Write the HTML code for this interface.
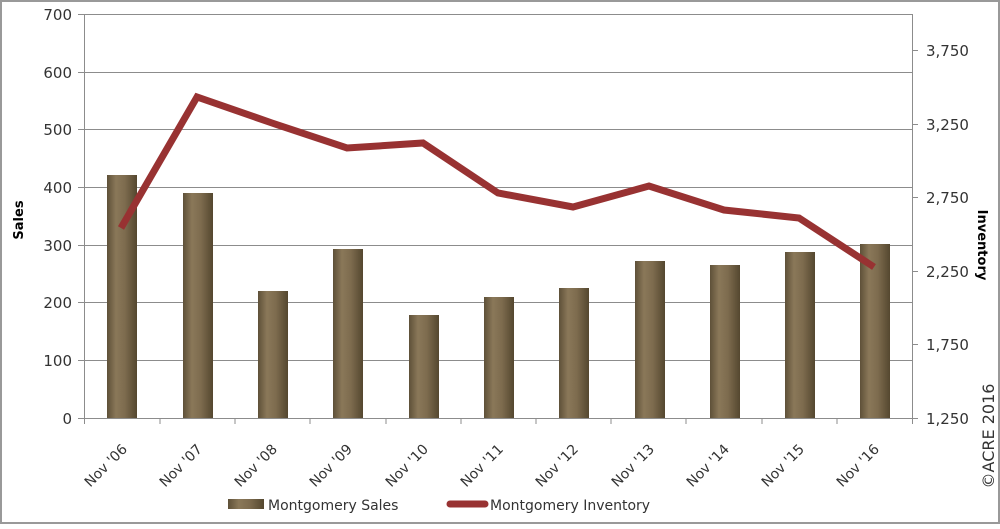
<!DOCTYPE html>
<html><head><style>
body{margin:0;background:#fff}
svg text{font-family:"DejaVu Sans","Liberation Sans",sans-serif;fill:#333}
</style></head><body>
<svg width="1000" height="524" xmlns="http://www.w3.org/2000/svg">
<defs>
<linearGradient id="bg" x1="0" x2="1" y1="0" y2="0">
<stop offset="0" stop-color="#5e5038"/><stop offset="0.3" stop-color="#8a7859"/><stop offset="0.6" stop-color="#7d6b4e"/><stop offset="1" stop-color="#54472f"/>
</linearGradient>
</defs>
<rect x="1" y="1" width="998" height="522" fill="#fff" stroke="#999" stroke-width="2"/>
<g stroke="#8c8c8c" stroke-width="1">
<line x1="84" y1="14.5" x2="912" y2="14.5"/>
<line x1="84" y1="72.5" x2="912" y2="72.5"/>
<line x1="84" y1="129.5" x2="912" y2="129.5"/>
<line x1="84" y1="187.5" x2="912" y2="187.5"/>
<line x1="84" y1="245.5" x2="912" y2="245.5"/>
<line x1="84" y1="302.5" x2="912" y2="302.5"/>
<line x1="84" y1="360.5" x2="912" y2="360.5"/>
<line x1="78" y1="418.5" x2="912" y2="418.5"/>
<line x1="84.5" y1="14" x2="84.5" y2="418"/>
<line x1="912.5" y1="14" x2="912.5" y2="424"/>
<line x1="78" y1="14.5" x2="84" y2="14.5"/><line x1="78" y1="72.5" x2="84" y2="72.5"/><line x1="78" y1="129.5" x2="84" y2="129.5"/><line x1="78" y1="187.5" x2="84" y2="187.5"/><line x1="78" y1="245.5" x2="84" y2="245.5"/><line x1="78" y1="302.5" x2="84" y2="302.5"/><line x1="78" y1="360.5" x2="84" y2="360.5"/>
<line x1="912" y1="50.5" x2="918" y2="50.5"/><line x1="912" y1="124.5" x2="918" y2="124.5"/><line x1="912" y1="197.5" x2="918" y2="197.5"/><line x1="912" y1="271.5" x2="918" y2="271.5"/><line x1="912" y1="344.5" x2="918" y2="344.5"/><line x1="912" y1="418.5" x2="918" y2="418.5"/>
<line x1="84.5" y1="418" x2="84.5" y2="424"/><line x1="160" y1="418" x2="160" y2="424"/><line x1="235" y1="418" x2="235" y2="424"/><line x1="310" y1="418" x2="310" y2="424"/><line x1="386" y1="418" x2="386" y2="424"/><line x1="461" y1="418" x2="461" y2="424"/><line x1="536" y1="418" x2="536" y2="424"/><line x1="611" y1="418" x2="611" y2="424"/><line x1="686" y1="418" x2="686" y2="424"/><line x1="762" y1="418" x2="762" y2="424"/><line x1="837" y1="418" x2="837" y2="424"/>
</g>
<g font-size="15" text-anchor="end">
<text x="72" y="20">700</text><text x="72" y="78">600</text><text x="72" y="135">500</text><text x="72" y="193">400</text><text x="72" y="251">300</text><text x="72" y="308">200</text><text x="72" y="366">100</text><text x="72" y="424">0</text>
</g>
<g font-size="15">
<text x="926" y="56">3,750</text><text x="926" y="130">3,250</text><text x="926" y="203">2,750</text><text x="926" y="277">2,250</text><text x="926" y="350">1,750</text><text x="926" y="424">1,250</text>
</g>
<text transform="translate(23,220) rotate(-90)" font-size="13" font-weight="bold" text-anchor="middle" style="fill:#000">Sales</text>
<text transform="translate(978,245) rotate(90)" font-size="13" font-weight="bold" text-anchor="middle" style="fill:#000">Inventory</text>
<text transform="translate(994,436) rotate(-90)" font-size="16" text-anchor="middle">©ACRE 2016</text>
<g fill="url(#bg)">
<rect x="107" y="175" width="30" height="243"/>
<rect x="183" y="193" width="30" height="225"/>
<rect x="258" y="291" width="30" height="127"/>
<rect x="333" y="249" width="30" height="169"/>
<rect x="409" y="315" width="30" height="103"/>
<rect x="484" y="297" width="30" height="121"/>
<rect x="559" y="288" width="30" height="130"/>
<rect x="635" y="261" width="30" height="157"/>
<rect x="710" y="265" width="30" height="153"/>
<rect x="785" y="252" width="30" height="166"/>
<rect x="860" y="244" width="30" height="174"/>
</g>
<polyline points="121,228 197,97 272,123 347,148 423,143 498,193 573,207 649,186 724,210 799,218 874,267" fill="none" stroke="#983232" stroke-width="7" stroke-linejoin="miter"/>
<g font-size="14">
<text transform="translate(128,450) rotate(-45)" text-anchor="end">Nov '06</text>
<text transform="translate(203,450) rotate(-45)" text-anchor="end">Nov '07</text>
<text transform="translate(278,450) rotate(-45)" text-anchor="end">Nov '08</text>
<text transform="translate(353,450) rotate(-45)" text-anchor="end">Nov '09</text>
<text transform="translate(429,450) rotate(-45)" text-anchor="end">Nov '10</text>
<text transform="translate(504,450) rotate(-45)" text-anchor="end">Nov '11</text>
<text transform="translate(579,450) rotate(-45)" text-anchor="end">Nov '12</text>
<text transform="translate(655,450) rotate(-45)" text-anchor="end">Nov '13</text>
<text transform="translate(730,450) rotate(-45)" text-anchor="end">Nov '14</text>
<text transform="translate(805,450) rotate(-45)" text-anchor="end">Nov '15</text>
<text transform="translate(880,450) rotate(-45)" text-anchor="end">Nov '16</text>
</g>
<rect x="228" y="499" width="36" height="10" fill="url(#bg)"/>
<text x="268" y="510" font-size="14">Montgomery Sales</text>
<line x1="450" y1="504" x2="485" y2="504" stroke="#983232" stroke-width="7" stroke-linecap="round"/>
<text x="490" y="510" font-size="14">Montgomery Inventory</text>
</svg>
</body></html>
